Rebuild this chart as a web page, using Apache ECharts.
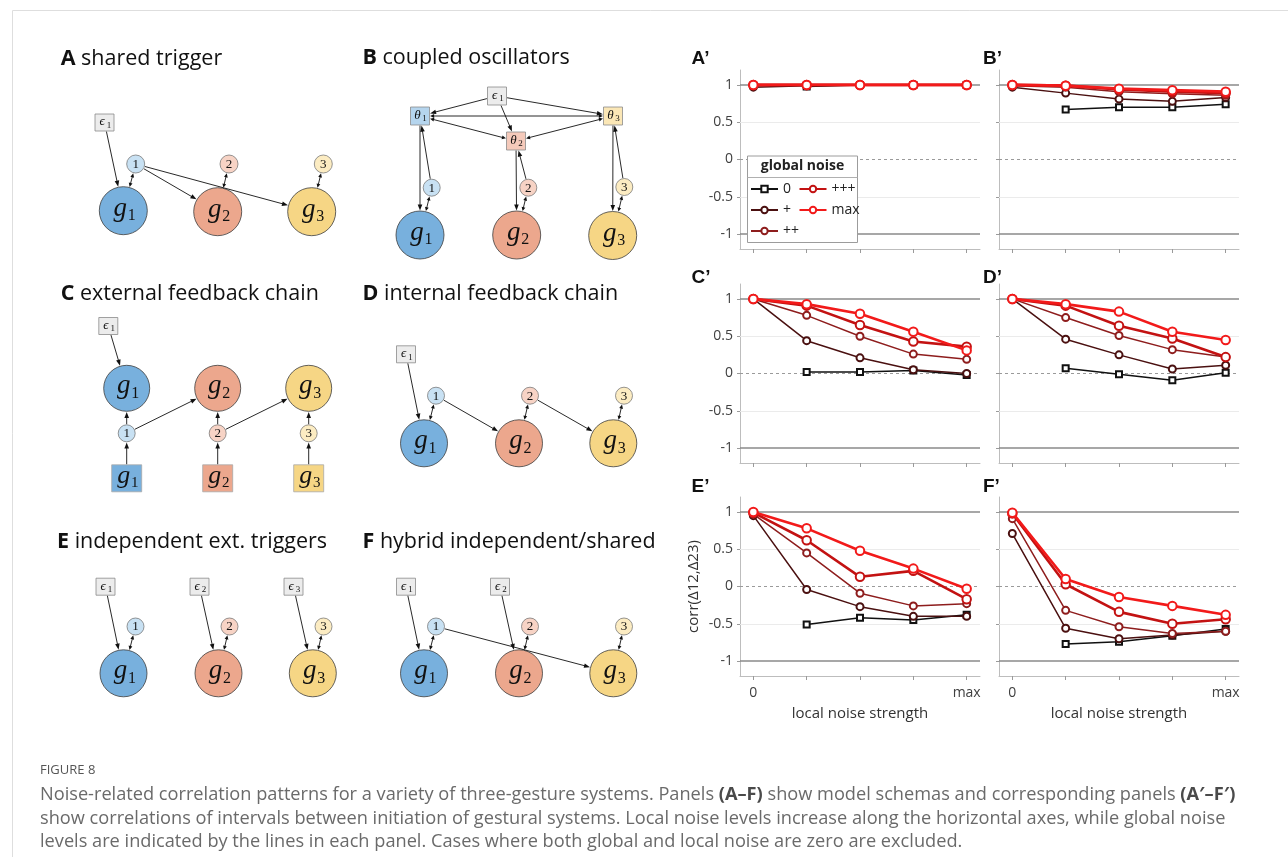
<!DOCTYPE html>
<html>
<head>
<meta charset="utf-8">
<title>Noise-related correlation patterns</title>
<script src="https://cdn.jsdelivr.net/npm/echarts@6/dist/echarts.min.js"></script>
<style>
  html, body { margin: 0; padding: 0; background: #fff; }
  #chart { width: 1288px; height: 857px; }
</style>
</head>
<body>
<div id="chart"></div>
<script>
// ---- data -------------------------------------------------------------
// local noise levels along the horizontal axis (0 .. max)
const localNoise = [0, 1, 2, 3, 4];
const localNoiseLabels = ['0', '', '', '', 'max'];
// global noise levels, one line each
const globalNoise = ['0', '+', '++', '+++', 'max'];
const corrTicks = [-1, -0.5, 0, 0.5, 1];
const strongLevels = [1, -1];
const faintLevels = [0.5, -0.5];
const zeroLevels = [0];
const panelLetters = ['A’', 'B’', 'C’', 'D’', 'E’', 'F’'];

// corr(Δ12, Δ23); rows follow globalNoise, columns follow localNoise
const corrA = [
  [null, 0.98, 1.00, 1.00, 1.00],
  [0.97, 0.99, 1.00, 1.00, 1.00],
  [0.99, 1.00, 1.00, 1.00, 1.00],
  [1.00, 1.00, 1.00, 1.00, 1.00],
  [1.00, 1.00, 1.00, 1.00, 1.00]
];
const corrB = [
  [null, 0.67, 0.70, 0.70, 0.74],
  [0.97, 0.89, 0.81, 0.78, 0.83],
  [0.99, 0.97, 0.91, 0.88, 0.86],
  [1.00, 0.99, 0.94, 0.91, 0.89],
  [1.00, 0.99, 0.95, 0.93, 0.91]
];
const corrC = [
  [null, 0.02, 0.02, 0.04, -0.02],
  [1.00, 0.44, 0.21, 0.05, 0.00],
  [1.00, 0.78, 0.50, 0.26, 0.19],
  [1.00, 0.91, 0.65, 0.43, 0.36],
  [1.00, 0.93, 0.80, 0.56, 0.31]
];
const corrD = [
  [null, 0.07, -0.01, -0.09, 0.01],
  [1.00, 0.46, 0.25, 0.06, 0.11],
  [1.00, 0.75, 0.51, 0.32, 0.22],
  [1.00, 0.91, 0.64, 0.47, 0.22],
  [1.00, 0.93, 0.83, 0.56, 0.45]
];
const corrE = [
  [null, -0.51, -0.42, -0.45, -0.38],
  [0.95, -0.04, -0.27, -0.40, -0.40],
  [0.97, 0.45, -0.09, -0.26, -0.23],
  [0.99, 0.62, 0.13, 0.21, -0.17],
  [1.00, 0.78, 0.48, 0.24, -0.03]
];
const corrF = [
  [null, -0.77, -0.74, -0.66, -0.57],
  [0.71, -0.56, -0.70, -0.65, -0.60],
  [0.91, -0.32, -0.54, -0.63, -0.60],
  [0.98, 0.03, -0.34, -0.50, -0.44],
  [0.99, 0.10, -0.14, -0.26, -0.38]
];
const panels = [corrA, corrB, corrC, corrD, corrE, corrF];

// ---- styles -----------------------------------------------------------
const chartFont = '"Open Sans", "Liberation Sans", sans-serif';
const mathFont = '"Liberation Serif", "DejaVu Serif", serif';
const lineColors = ['#111111', '#4a1010', '#8e1d1d', '#c31212', '#f21a1a'];
const lineWidths = [1.5, 1.5, 1.5, 2.6, 2.6];
const symbols = ['emptyRect', 'emptyCircle', 'emptyCircle', 'emptyCircle', 'emptyCircle'];
const symbolSizes = [6, 7, 7, 8.5, 8.5];
const borderWidths = [1.4, 1.4, 1.4, 2, 2];

const gridLefts = [740, 999];
const gridTops = [70, 284, 497];
const gridW = 240, gridH = 179;

const grids = [], xAxes = [], yAxes = [], series = [];
panels.forEach((panel, i) => {
  const col = i % 2, row = Math.floor(i / 2);
  grids.push({ left: gridLefts[col], top: gridTops[row], width: gridW, height: gridH, outerBoundsMode: 'none' });
  xAxes.push({
    type: 'value', gridIndex: i, min: -0.25, max: 4.25,
    axisLine: { show: true, onZero: false, lineStyle: { color: '#bdbdbd', width: 1 } },
    axisTick: { show: true, customValues: localNoise, length: 4, lineStyle: { color: '#9a9a9a' } },
    axisLabel: {
      show: row === 2, customValues: [localNoise[0], localNoise[localNoise.length - 1]],
      formatter: v => localNoiseLabels[Math.round(v)], margin: 10,
      fontSize: 14, color: '#404040', fontFamily: chartFont
    },
    splitLine: { show: false },
    name: row === 2 ? 'local noise strength' : '', nameLocation: 'middle', nameGap: 30,
    nameTextStyle: { fontSize: 15, color: '#333', fontFamily: chartFont }
  });
  yAxes.push({
    type: 'value', gridIndex: i, min: -1.2, max: 1.2,
    axisLine: { show: true, onZero: false, lineStyle: { color: '#bdbdbd', width: 1 } },
    axisTick: { show: true, customValues: corrTicks, length: 3, lineStyle: { color: '#9a9a9a' } },
    axisLabel: {
      show: col === 0, customValues: corrTicks, formatter: v => String(v), margin: 7,
      fontSize: 14, color: '#404040', fontFamily: chartFont
    },
    splitLine: { show: false },
    name: i === 4 ? 'corr(Δ12,Δ23)' : '', nameLocation: 'middle', nameGap: 39,
    nameTextStyle: { fontSize: 15, color: '#333', fontFamily: chartFont }
  });
  // reference levels
  series.push({
    type: 'line', xAxisIndex: i, yAxisIndex: i, data: [], silent: true,
    markLine: {
      silent: true, z: 1, symbol: ['none', 'none'], label: { show: false }, animation: false,
      data: [
        ...strongLevels.map(v => ({ yAxis: v, lineStyle: { color: '#8a8a8a', width: 1.6, type: 'solid' } })),
        ...faintLevels.map(v => ({ yAxis: v, lineStyle: { color: '#ebebeb', width: 1, type: 'solid' } })),
        ...zeroLevels.map(v => ({ yAxis: v, lineStyle: { color: '#9a9a9a', width: 1, type: [3, 3] } }))
      ]
    }
  });
  panel.forEach((vals, k) => {
    series.push({
      name: globalNoise[k], type: 'line', xAxisIndex: i, yAxisIndex: i,
      data: localNoise.map((x, j) => [x, vals[j]]),
      symbol: symbols[k], symbolSize: symbolSizes[k],
      color: lineColors[k],
      lineStyle: { color: lineColors[k], width: lineWidths[k] },
      itemStyle: { color: lineColors[k], borderWidth: borderWidths[k] },
      z: 3 + k, silent: true
    });
  });
});

// ---- schematic diagrams ----------------------------------------------
const bigFill = ['#78b0dd', '#eca78d', '#f6d685'];
const smallFill = ['#c8e1f3', '#f7d3c5', '#fcecc2'];
const thetaFill = ['#b5d5ee', '#f5cabb', '#fbe7b6'];
const epsFill = '#ececec';

const g = [];
function txt(x, y, text, font, opts) {
  g.push(Object.assign({
    type: 'text', x: x, y: y, silent: true, z: 30,
    style: Object.assign({ text: text, font: font, fill: '#111', align: 'center', verticalAlign: 'middle',
      textAlign: 'center', textVerticalAlign: 'middle' }, opts || {})
  }));
}
function bigNode(n) {
  g.push({ type: 'circle', silent: true, z: 20, shape: { cx: n.x, cy: n.y, r: n.r }, style: { fill: bigFill[n.k], stroke: '#3d3d3d', lineWidth: 0.8 } });
  txt(n.x - 3, n.y - 2, 'g', 'italic 27px ' + mathFont);
  txt(n.x + 8.5, n.y + 5, String(n.k + 1), '16px ' + mathFont);
}
function smallNode(n) {
  g.push({ type: 'circle', silent: true, z: 20, shape: { cx: n.x, cy: n.y, r: n.r }, style: { fill: smallFill[n.k], stroke: '#6a6a6a', lineWidth: 0.7 } });
  txt(n.x, n.y + 0.5, String(n.k + 1), '13px ' + mathFont);
}
function boxNode(n) {
  g.push({ type: 'rect', silent: true, z: 20, shape: { x: n.x - n.w / 2, y: n.y - n.h / 2, width: n.w, height: n.h },
    style: { fill: n.fill, stroke: n.stroke || '#8a8a8a', lineWidth: 0.8 } });
  if (n.sym === 'g') {
    txt(n.x - 3, n.y - 2, 'g', 'italic 26px ' + mathFont);
    txt(n.x + 8, n.y + 5, n.sub, '15px ' + mathFont);
  } else {
    txt(n.x - 2.5, n.y - 0.5, n.sym, 'italic 13px ' + mathFont);
    txt(n.x + 4.5, n.y + 3, n.sub, '9px ' + mathFont);
  }
}
function boundary(n, ux, uy) {
  if (n.r) return n.r;
  const tx = Math.abs(ux) > 1e-9 ? (n.w / 2) / Math.abs(ux) : Infinity;
  const ty = Math.abs(uy) > 1e-9 ? (n.h / 2) / Math.abs(uy) : Infinity;
  return Math.min(tx, ty);
}
function head(x, y, ux, uy, L, W) {
  const bx = x - ux * L, by = y - uy * L;
  g.push({ type: 'polygon', silent: true, z: 25,
    shape: { points: [[x, y], [bx - uy * W, by + ux * W], [bx + uy * W, by - ux * W]] },
    style: { fill: '#111' } });
}
function edge(a, b, both) {
  const dx = b.x - a.x, dy = b.y - a.y, len = Math.hypot(dx, dy);
  const ux = dx / len, uy = dy / len;
  const s = boundary(a, ux, uy) + 0.6, e = boundary(b, ux, uy) + 0.6;
  const x1 = a.x + ux * s, y1 = a.y + uy * s, x2 = b.x - ux * e, y2 = b.y - uy * e;
  const L = both ? 4 : 6, W = both ? 1.9 : 2.3;
  const sx = both ? x1 + ux * L * 0.7 : x1, sy = both ? y1 + uy * L * 0.7 : y1;
  g.push({ type: 'line', silent: true, z: 25,
    shape: { x1: sx, y1: sy, x2: x2 - ux * L * 0.7, y2: y2 - uy * L * 0.7 },
    style: { stroke: '#111', lineWidth: 0.9 } });
  head(x2, y2, ux, uy, L, W);
  if (both) head(x1, y1, -ux, -uy, L, W);
}
function diagram(d) {
  Object.values(d.nodes).forEach(n => {
    if (n.kind === 'big') bigNode(n);
    else if (n.kind === 'small') smallNode(n);
    else boxNode(n);
  });
  d.edges.forEach(([a, b, both]) => edge(d.nodes[a], d.nodes[b], !!both));
}
const big = (x, y, k, r) => ({ kind: 'big', x, y, k, r: r || 23.5 });
const small = (x, y, k, r) => ({ kind: 'small', x, y, k, r: r || 8.5 });
const eps = (x, y, sub) => ({ kind: 'box', x, y, w: 19, h: 17, fill: epsFill, sym: 'ϵ', sub });
const theta = (x, y, k) => ({ kind: 'box', x, y, w: 19, h: 18, fill: thetaFill[k], sym: 'θ', sub: String(k + 1) });
const gbox = (x, y, k) => ({ kind: 'box', x, y, w: 30, h: 27, fill: bigFill[k], stroke: '#a8a8a8', sym: 'g', sub: String(k + 1) });

const diagrams = [
  { // A shared trigger
    nodes: {
      e1: eps(104.5, 122.5, '1'),
      s1: small(135.7, 164, 0, 9), s2: small(229, 164, 1, 9), s3: small(323.3, 164, 2, 9),
      g1: big(123.3, 210.7, 0, 24), g2: big(217.7, 211.7, 1, 24), g3: big(311.7, 211.7, 2, 24)
    },
    edges: [['e1', 'g1'], ['s1', 'g1', 1], ['s1', 'g2'], ['s1', 'g3'], ['s2', 'g2', 1], ['s3', 'g3', 1]]
  },
  { // B coupled oscillators
    nodes: {
      e1: { kind: 'box', x: 497, y: 96, w: 19, h: 18, fill: epsFill, sym: 'ϵ', sub: '1' },
      t1: theta(420, 116, 0), t2: theta(516, 141, 1), t3: theta(613, 116, 2),
      s1: small(431.7, 187.7, 0), s2: small(528.3, 187.7, 1), s3: small(624.3, 187, 2),
      g1: big(420, 235, 0, 24), g2: big(516.7, 235, 1, 24), g3: big(612.7, 235.5, 2, 24)
    },
    edges: [['e1', 't1'], ['e1', 't2'], ['e1', 't3'], ['t1', 't3', 1], ['t1', 't2', 1], ['t3', 't2', 1],
      ['t1', 'g1'], ['t2', 'g2'], ['t3', 'g3'], ['s1', 't1'], ['s2', 't2'], ['s3', 't3'],
      ['s1', 'g1', 1], ['s2', 'g2', 1], ['s3', 'g3', 1]]
  },
  { // C external feedback chain
    nodes: {
      e1: eps(108.3, 326, '1'),
      g1: big(126.7, 388.3, 0, 23), g2: big(217.7, 388.3, 1, 23), g3: big(308.7, 388.3, 2, 23),
      s1: small(126.7, 433.3, 0), s2: small(217.7, 433.3, 1), s3: small(308.7, 433.3, 2),
      q1: gbox(126.7, 478.3, 0), q2: gbox(217.7, 478.3, 1), q3: gbox(308.7, 478.3, 2)
    },
    edges: [['e1', 'g1'], ['s1', 'g1'], ['s2', 'g2'], ['s3', 'g3'], ['q1', 's1'], ['q2', 's2'], ['q3', 's3'],
      ['s1', 'g2'], ['s2', 'g3']]
  },
  { // D internal feedback chain
    nodes: {
      e1: eps(406, 354.3, '1'),
      s1: small(436, 395.7, 0), s2: small(530, 395.7, 1), s3: small(624, 395.7, 2),
      g1: big(424, 443.3, 0), g2: big(519, 443.3, 1), g3: big(613.3, 443.3, 2)
    },
    edges: [['e1', 'g1'], ['s1', 'g1', 1], ['s1', 'g2'], ['s2', 'g2', 1], ['s2', 'g3'], ['s3', 'g3', 1]]
  },
  { // E independent external triggers
    nodes: {
      e1: eps(105.5, 586.7, '1'), e2: eps(199.5, 586.7, '2'), e3: eps(293.5, 586.7, '3'),
      s1: small(135.5, 626.5, 0), s2: small(229.5, 626.5, 1), s3: small(323.5, 626.5, 2),
      g1: big(123.5, 673.3, 0), g2: big(218.5, 673.3, 1), g3: big(312.8, 673.3, 2)
    },
    edges: [['e1', 'g1'], ['e2', 'g2'], ['e3', 'g3'], ['s1', 'g1', 1], ['s2', 'g2', 1], ['s3', 'g3', 1]]
  },
  { // F hybrid independent/shared
    nodes: {
      e1: eps(406, 586.7, '1'), e2: eps(500, 586.7, '2'),
      s1: small(436, 626.5, 0), s2: small(530, 626.5, 1), s3: small(624, 626.5, 2),
      g1: big(424, 673.3, 0), g2: big(519, 673.3, 1), g3: big(613.3, 673.3, 2)
    },
    edges: [['e1', 'g1'], ['e2', 'g2'], ['s1', 'g3'], ['s1', 'g1', 1], ['s2', 'g2', 1], ['s3', 'g3', 1]]
  }
];
diagrams.forEach(diagram);

// panel titles for the schematics
const titleSize = 21.5;
const schemaTitles = [
  ['A', 'shared trigger', 60.7, 59],
  ['B', 'coupled oscillators', 362.5, 58],
  ['C', 'external feedback chain', 60.7, 294],
  ['D', 'internal feedback chain', 362.5, 294],
  ['E', 'independent ext. triggers', 57, 542],
  ['F', 'hybrid independent/shared', 362.5, 542]
];
schemaTitles.forEach(([letter, text, x, y]) => {
  g.push({ type: 'text', x, y, silent: true, z: 30,
    style: { text: '{b|' + letter + '} ' + text, fontSize: titleSize, fontFamily: chartFont, fill: '#111',
      align: 'left', verticalAlign: 'middle', textAlign: 'left', textVerticalAlign: 'middle',
      rich: { b: { fontSize: titleSize, fontFamily: chartFont, fontWeight: 'bold', fill: '#111', color: '#111' } } } });
});

// panel letters for the correlation plots
const letterPos = [[691.5, 59], [983, 59], [691.5, 278], [983, 278], [691.5, 487], [983, 487]];
panelLetters.forEach((t, i) => {
  g.push({ type: 'text', x: letterPos[i][0], y: letterPos[i][1], silent: true, z: 30,
    style: { text: t, font: 'bold 19px "Liberation Sans", Arial, sans-serif', fill: '#111',
      align: 'left', verticalAlign: 'middle', textAlign: 'left', textVerticalAlign: 'middle' } });
});

// legend frame
g.push({ type: 'rect', silent: true, z: 10, shape: { x: 747.5, y: 156, width: 110, height: 86.5 },
  style: { fill: '#fff', stroke: '#9c9c9c', lineWidth: 1 } });
g.push({ type: 'line', silent: true, z: 11, shape: { x1: 747.5, y1: 177.5, x2: 857.5, y2: 177.5 },
  style: { stroke: '#b0b0b0', lineWidth: 1 } });
g.push({ type: 'text', x: 802.5, y: 166.5, silent: true, z: 12,
  style: { text: 'global noise', font: 'bold 14px ' + chartFont, fill: '#222',
    align: 'center', verticalAlign: 'middle', textAlign: 'center', textVerticalAlign: 'middle' } });

// page frame
g.push({ type: 'line', silent: true, z: 1, shape: { x1: 12.5, y1: 10.5, x2: 1288, y2: 10.5 }, style: { stroke: '#dedede', lineWidth: 1 } });
g.push({ type: 'line', silent: true, z: 1, shape: { x1: 12.5, y1: 10.5, x2: 12.5, y2: 857 }, style: { stroke: '#dedede', lineWidth: 1 } });

// caption
const captionFont = '"Open Sans", sans-serif';
const captionSize = 18.2;
g.push({ type: 'text', x: 40, y: 770, silent: true, z: 30,
  style: { text: 'FIGURE 8', font: '13px ' + captionFont, fill: '#555',
    align: 'left', verticalAlign: 'middle', textAlign: 'left', textVerticalAlign: 'middle' } });
const captionLines = [
  'Noise-related correlation patterns for a variety of three-gesture systems. Panels {b|(A–F)} show model schemas and corresponding panels {b|(A′–F′)}',
  'show correlations of intervals between initiation of gestural systems. Local noise levels increase along the horizontal axes, while global noise',
  'levels are indicated by the lines in each panel. Cases where both global and local noise are zero are excluded.'
];
const captionY = [795, 819, 842];
captionLines.forEach((t, i) => {
  g.push({ type: 'text', x: 40, y: captionY[i], silent: true, z: 30,
    style: { text: t, fontSize: captionSize, fontFamily: captionFont, fill: '#6a6a6a',
      align: 'left', verticalAlign: 'middle', textAlign: 'left', textVerticalAlign: 'middle',
      rich: { b: { fontSize: captionSize, fontFamily: captionFont, fontWeight: 'bold', fill: '#4a4a4a', color: '#4a4a4a' } } } });
});

// ---- chart ------------------------------------------------------------
const legendBase = {
  orient: 'vertical', top: 182, itemWidth: 27, itemHeight: 8, itemGap: 7,
  selectedMode: false, z: 20, padding: 0,
  textStyle: { fontSize: 14, color: '#222', fontFamily: chartFont, lineHeight: 14 }
};
const option = {
  animation: false,
  backgroundColor: '#fff',
  textStyle: { fontFamily: chartFont },
  grid: grids,
  xAxis: xAxes,
  yAxis: yAxes,
  legend: [
    Object.assign({}, legendBase, { left: 750, data: globalNoise.slice(0, 3) }),
    Object.assign({}, legendBase, { left: 798.5, data: globalNoise.slice(3) })
  ],
  graphic: { elements: g },
  series: series
};
const chart = echarts.init(document.getElementById('chart'), null, { renderer: 'canvas' });
chart.setOption(option);
</script>
</body>
</html>
